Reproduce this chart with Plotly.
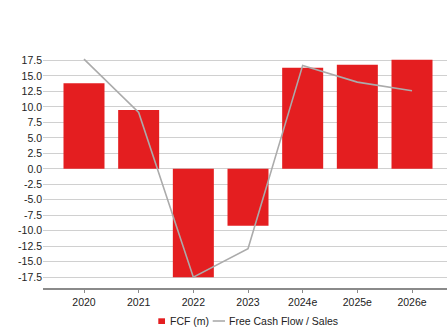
import plotly.graph_objects as go

years = ["2020", "2021", "2022", "2023", "2024e", "2025e", "2026e"]
fcf = [13.8, 9.5, -17.5, -9.2, 16.3, 16.8, 17.6]
fcf_sales = [17.7, 9.1, -17.5, -12.9, 16.7, 14.0, 12.6]
ytick_vals = [-17.5, -15.0, -12.5, -10.0, -7.5, -5.0, -2.5, 0.0, 2.5, 5.0, 7.5, 10.0, 12.5, 15.0, 17.5]
ytick_text = ["-17.5", "-15.0", "-12.5", "-10.0", "-7.5", "-5.0", "-2.5", "0.0", "2.5", "5.0", "7.5", "10.0", "12.5", "15.0", "17.5"]
bar_name = "FCF (m)"
line_name = "Free Cash Flow / Sales"

BAR_COLOR = "#E41E20"
LINE_COLOR = "#ABABAB"

W, H = 447, 327
ML, MR, MT, MB = 43, 0, 52, 39
PW, PH = W - ML - MR, H - MT - MB


def px_x(px):
    return (px - ML) / PW


def px_y(py):
    return (H - MB - py) / PH


fig = go.Figure()
fig.add_trace(go.Bar(x=years, y=fcf, name=bar_name, showlegend=False,
                     marker=dict(color=BAR_COLOR, line=dict(width=0))))
fig.add_trace(go.Scatter(x=years, y=fcf_sales, name=line_name, mode="lines", showlegend=False,
                         line=dict(color=LINE_COLOR, width=1.6)))

# custom legend
fig.add_shape(type="rect", xref="paper", yref="paper",
              x0=px_x(158.3), x1=px_x(165), y0=px_y(324), y1=px_y(318.3),
              fillcolor=BAR_COLOR, line=dict(width=0))
fig.add_shape(type="line", xref="paper", yref="paper",
              x0=px_x(212.7), x1=px_x(225), y0=px_y(321), y1=px_y(321),
              line=dict(color=LINE_COLOR, width=1.6))
fig.add_annotation(text=bar_name, xref="paper", yref="paper", x=px_x(167.5), y=px_y(321),
                   xanchor="left", yanchor="middle", showarrow=False,
                   font=dict(size=10.5, color="#222222"))
fig.add_annotation(text=line_name, xref="paper", yref="paper", x=px_x(226.5), y=px_y(321),
                   xanchor="left", yanchor="middle", showarrow=False,
                   font=dict(size=10.5, color="#222222"))

fig.update_layout(
    width=W, height=H,
    margin=dict(l=ML, r=MR, t=MT, b=MB, autoexpand=False),
    plot_bgcolor="white", paper_bgcolor="white",
    bargap=0.25,
    font=dict(family="Liberation Sans, Arial, sans-serif", size=10.5, color="#222222"),
    showlegend=False,
    xaxis=dict(type="category", range=[-0.75, 6.64], showgrid=False, showline=True,
               linecolor="#8A8A8A", linewidth=2, ticks="outside", ticklen=3, tickcolor="#8A8A8A",
               tickfont=dict(size=10.5)),
    yaxis=dict(range=[-19.24, 18.86], tickvals=ytick_vals, ticktext=ytick_text,
               showgrid=True, gridcolor="#D0D0D0", gridwidth=1, zeroline=False,
               showline=False, ticks="", tickfont=dict(size=10.5)),
)

fig.write_html("out.html")
